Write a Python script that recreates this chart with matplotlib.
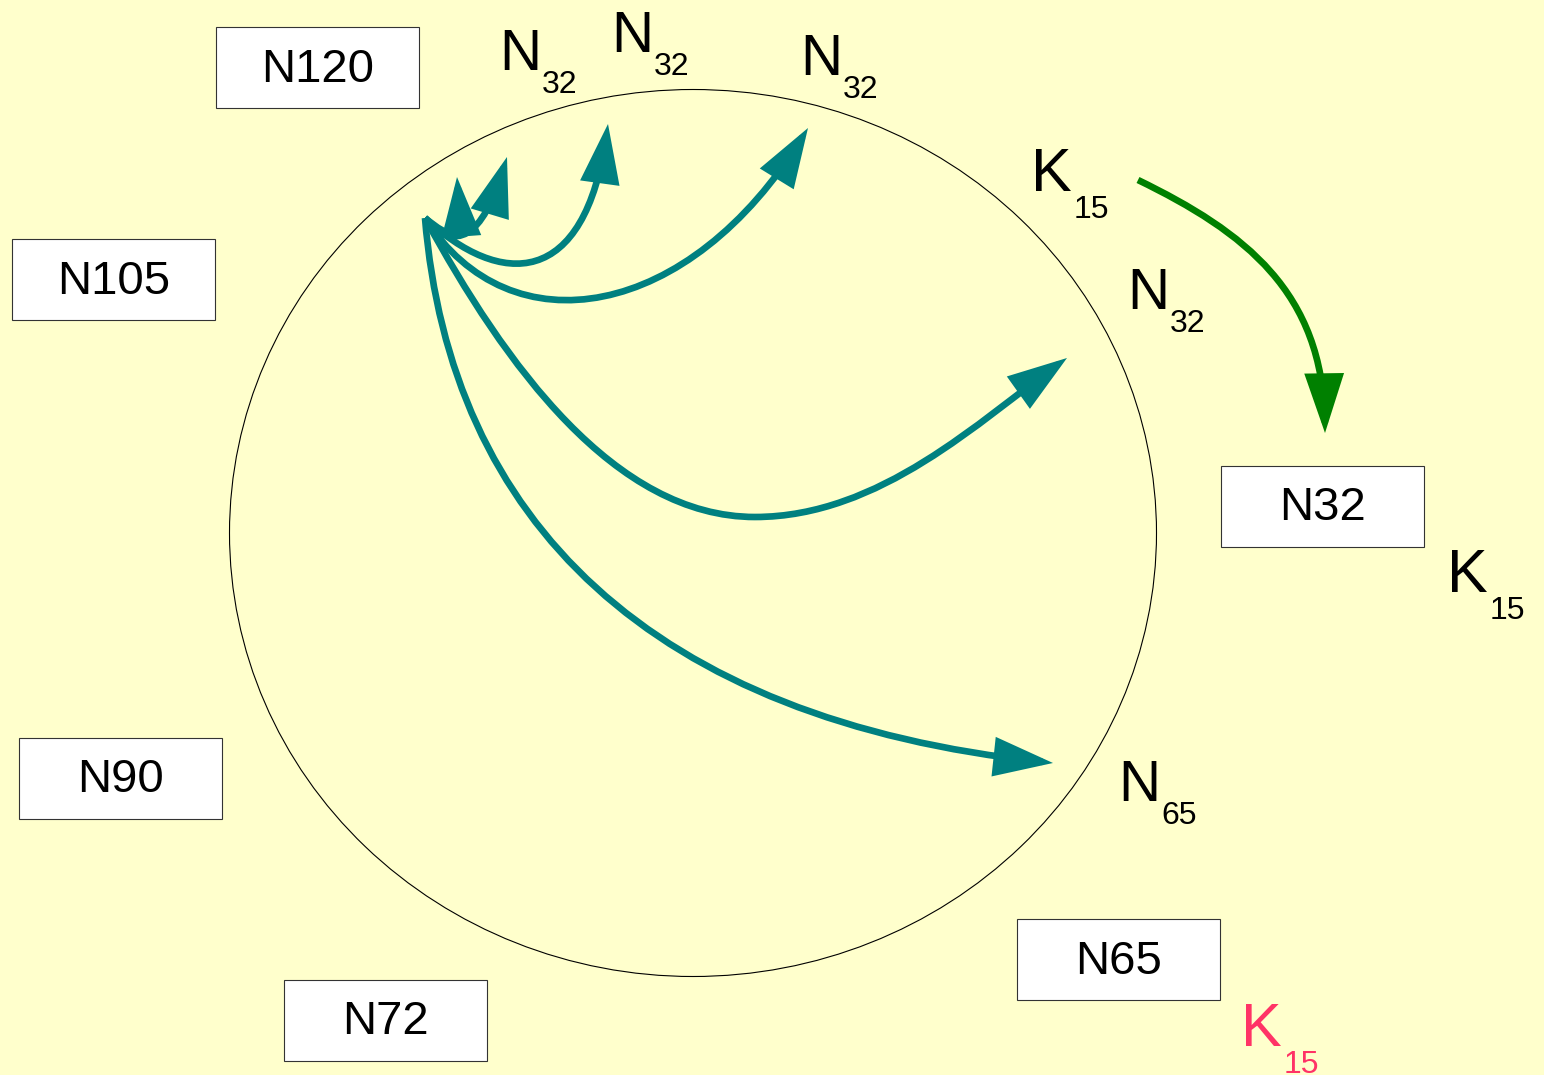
import numpy as np
import matplotlib.pyplot as plt
from matplotlib.patches import Ellipse, Rectangle, FancyArrowPatch
from matplotlib.path import Path

plt.rcParams['font.family'] = ['Liberation Sans', 'DejaVu Sans']

W, H = 1544, 1075
BG = '#ffffcc'
TEAL = '#008080'
GREEN = '#008000'
PINK = '#ff3366'

# ring (pixel coords)
ring_center = (693, 533)
ring_size = (927, 887)

# node boxes: label, left, top
box_labels = ['N120', 'N105', 'N90', 'N72', 'N65', 'N32']
box_left = [216, 12, 19, 284, 1017, 1221]
box_top = [27, 239, 738, 980, 919, 466]
box_w, box_h = 203, 81

# subscripted labels: main, sub, x, baseline y, colour
lab_main = ['N', 'N', 'N', 'K', 'N', 'K', 'N', 'K']
lab_sub = ['32', '32', '32', '15', '32', '15', '65', '15']
lab_x = [499, 611, 800, 1031, 1127, 1447, 1118, 1241]
lab_y = [70, 52, 75, 191, 309, 592, 801, 1046]
lab_col = ['black'] * 7 + [PINK]

# finger arrows as cubic bezier control points
fingers = [
    [(425, 218), (450, 238), (462, 245), (457, 177)],
    [(425, 218), (455, 252), (482, 240), (507, 157)],
    [(425, 218), (500, 288), (585, 290), (608, 124)],
    [(425, 218), (510, 352), (690, 320), (808, 128)],
    [(425, 218), (505, 365), (615, 517), (755, 517),
     (880, 517), (980, 420), (1067, 358)],
    [(425, 218), (450, 520), (650, 720), (1053, 763)],
]
lookup = [(1138, 180), (1245, 232), (1323, 292), (1325, 433)]

# per-letter text style
main_size = {'N': 42, 'K': 44}
sub_drop = {'N': 23, 'K': 27}

fig = plt.figure(figsize=(W / 100, H / 100), dpi=100, facecolor=BG)
ax = fig.add_axes([0, 0, 1, 1])
ax.set_xlim(0, W)
ax.set_ylim(H, 0)
ax.axis('off')
ax.set_facecolor(BG)

ax.add_patch(Ellipse(ring_center, *ring_size, fill=False, ec='black', lw=0.8))

for lab, x, y in zip(box_labels, box_left, box_top):
    ax.add_patch(Rectangle((x, y), box_w, box_h, fc='white', ec='#333333', lw=0.8))
    ax.text(x + box_w / 2, y + box_h / 2 + 2, lab, fontsize=34,
            ha='center', va='center')

for m, s, x, y, c in zip(lab_main, lab_sub, lab_x, lab_y, lab_col):
    ax.text(x, y, m, fontsize=main_size[m], color=c, ha='left', va='baseline')
    ax.text(x + 43, y + sub_drop[m], s, fontsize=23, color=c,
            ha='left', va='baseline')


def curve_arrow(pts, color):
    codes = [Path.MOVETO] + [Path.CURVE4] * (len(pts) - 1)
    arr = FancyArrowPatch(path=Path(pts, codes),
                          arrowstyle='-|>,head_length=33,head_width=11',
                          mutation_scale=1, color=color, lw=4.8,
                          joinstyle='miter', capstyle='butt')
    ax.add_patch(arr)


for pts in fingers:
    curve_arrow(pts, TEAL)
curve_arrow(lookup, GREEN)

fig.savefig('out.png', dpi=100, facecolor=BG)
